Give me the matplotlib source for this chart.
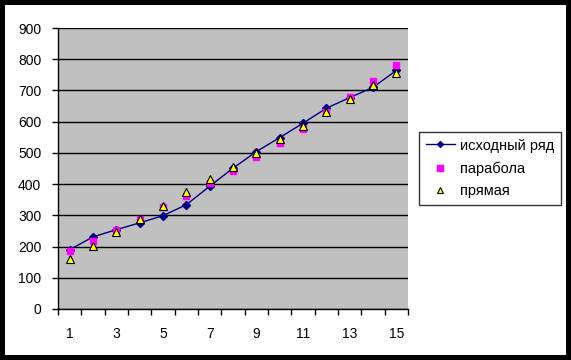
import numpy as np
import matplotlib
matplotlib.use("Agg")
import matplotlib.pyplot as plt
from matplotlib.patches import Rectangle

plt.rcParams["font.family"] = ["Liberation Sans", "DejaVu Sans"]

# данные
categories = list(range(1, 16))
tick_labels = ["1", "3", "5", "7", "9", "11", "13", "15"]
source = [190, 231, 254, 276, 299, 334, 393, 451, 504, 549, 595, 643, 677, 710, 764]
parabola = [185, 217, 254, 288, 327, 363, 402, 443, 488, 533, 578, 632, 680, 731, 783]
line_fit = [160, 201, 248, 289, 330, 374, 415, 456, 501, 544, 586, 630, 672, 716, 757]
names = ["исходный ряд", "парабола", "прямая"]

W, H = 571, 360
fig = plt.figure(figsize=(W / 100, H / 100), dpi=100)
fig.patch.set_facecolor("black")
fig.patches.append(Rectangle((5 / W, 5 / H), 561 / W, 350 / H, transform=fig.transFigure,
                             facecolor="white", edgecolor="none", zorder=-1))

ax = fig.add_axes([58 / W, (H - 309) / H, 350 / W, 281 / H])
ax.set_facecolor("#c0c0c0")

ax.plot(categories, source, color="#000080", lw=1, marker="D", ms=4,
        mfc="#000080", mec="#000080", label=names[0], zorder=3)
ax.plot(categories, parabola, ls="none", marker="s", ms=5, mfc="#ff00ff",
        mec="#ff00ff", label=names[1], zorder=4)
ax.plot(categories, line_fit, ls="none", marker="^", ms=5.5, mfc="#ffff00",
        mec="black", mew=0.8, label=names[2], zorder=5)

ax.set_ylim(0, 900)
ax.set_yticks(np.arange(0, 901, 100))
ax.yaxis.grid(True, color="black", lw=1)
ax.set_axisbelow(True)

ax.set_xlim(0.5, 15.5)
ax.set_xticks(np.arange(0.5, 16, 1))
ax.set_xticklabels([])
ax.set_xticks(categories[::2], minor=True)
ax.set_xticklabels(tick_labels, minor=True)
ax.tick_params(axis="x", which="minor", length=0, pad=13, labelsize=10)
ax.tick_params(axis="x", which="major", length=4, width=1, color="black")
ax.tick_params(axis="y", length=4, width=1, pad=8, labelsize=10)

for side in ["top", "right"]:
    ax.spines[side].set_visible(False)
ax.spines["left"].set_linewidth(1)
ax.spines["bottom"].set_linewidth(1)

leg = fig.legend(loc="upper left", bbox_to_anchor=(419 / W, (H - 132) / H),
                 fontsize=10.5, frameon=True, fancybox=False, borderaxespad=0,
                 handlelength=2.0, handletextpad=0.35, labelspacing=0.6,
                 borderpad=0.45, markerscale=0.75)
leg.get_frame().set_edgecolor("black")
leg.get_frame().set_linewidth(1)

fig.savefig("out.png", dpi=100, facecolor=fig.get_facecolor())
